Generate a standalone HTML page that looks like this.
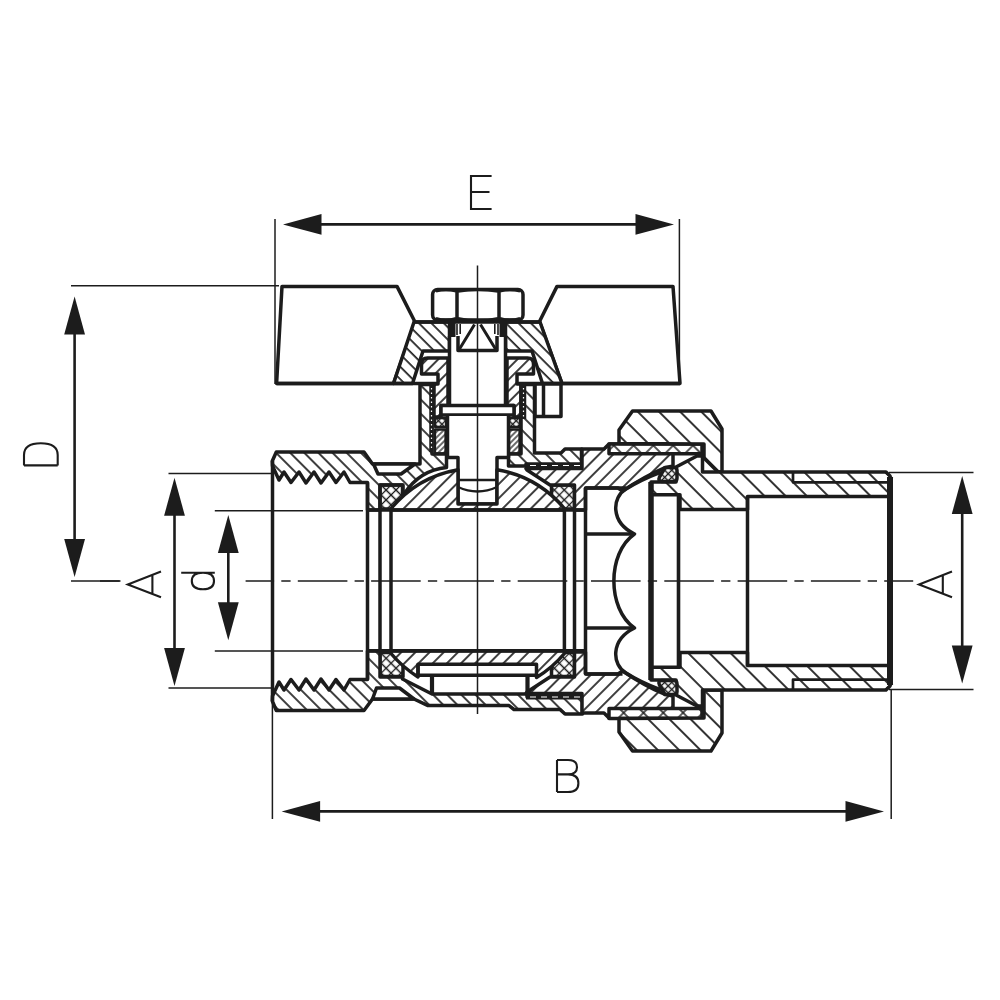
<!DOCTYPE html>
<html><head><meta charset="utf-8"><title>Ball valve drawing</title>
<style>
html,body{margin:0;padding:0;background:#fff;}
body{width:1000px;height:1000px;overflow:hidden;font-family:"Liberation Sans",sans-serif;}
svg{display:block}
.k{stroke:#1c1c1c;stroke-width:3.5;stroke-linejoin:round;stroke-linecap:butt}
.m{stroke:#1c1c1c;stroke-width:2.3;stroke-linejoin:round}
.t{stroke:#1c1c1c;stroke-width:1.6}
.x{stroke:#1c1c1c;stroke-width:1.5}
.d{stroke:#1c1c1c;stroke-width:2.6}
.l{stroke:#1c1c1c;stroke-width:2.1;stroke-linejoin:miter;stroke-linecap:butt}
</style></head><body>
<svg width="1000" height="1000" viewBox="0 0 1000 1000">
<rect width="1000" height="1000" fill="#fff"/>

<defs>
<pattern id="hb10" width="10" height="10" patternUnits="userSpaceOnUse" patternTransform="rotate(-45)"><line x1="5" y1="-1" x2="5" y2="11" stroke="#1c1c1c" stroke-width="1.7"/></pattern>
<pattern id="hb9" width="8.8" height="10" patternUnits="userSpaceOnUse" patternTransform="translate(3 0) rotate(-45)"><line x1="4" y1="-1" x2="4" y2="11" stroke="#1c1c1c" stroke-width="1.7"/></pattern>
<pattern id="hb15" width="15" height="10" patternUnits="userSpaceOnUse" patternTransform="translate(4 0) rotate(-45)"><line x1="7" y1="-1" x2="7" y2="11" stroke="#1c1c1c" stroke-width="1.8"/></pattern>
<pattern id="hf10" width="10" height="10" patternUnits="userSpaceOnUse" patternTransform="rotate(45)"><line x1="5" y1="-1" x2="5" y2="11" stroke="#1c1c1c" stroke-width="1.7"/></pattern>
<pattern id="hf8" width="8" height="10" patternUnits="userSpaceOnUse" patternTransform="rotate(45)"><line x1="4" y1="-1" x2="4" y2="11" stroke="#1c1c1c" stroke-width="1.7"/></pattern>
<pattern id="hf4" width="4" height="10" patternUnits="userSpaceOnUse" patternTransform="rotate(45)"><line x1="2" y1="-1" x2="2" y2="11" stroke="#1c1c1c" stroke-width="1.3"/></pattern>
<pattern id="hx" width="7" height="7" patternUnits="userSpaceOnUse" patternTransform="rotate(45)"><path d="M3.5,-1V8M-1,3.5H8" stroke="#1c1c1c" stroke-width="1.3" fill="none"/></pattern>
<pattern id="hx4" width="5" height="5" patternUnits="userSpaceOnUse" patternTransform="rotate(45)"><path d="M2.5,-1V6M-1,2.5H6" stroke="#1c1c1c" stroke-width="1.3" fill="none"/></pattern>
<pattern id="hxb" width="14" height="14" patternUnits="userSpaceOnUse" patternTransform="rotate(45)"><path d="M7,-1V15M-1,7H15" stroke="#1c1c1c" stroke-width="1.4" fill="none"/></pattern>
</defs>
<path class="x" d="M275,219V384" fill="none" />
<path class="x" d="M679.4,219V384" fill="none" />
<path class="x" d="M272.4,700V819" fill="none" />
<path class="x" d="M891.2,689V819" fill="none" />
<path class="x" d="M71,285.8H279" fill="none" />
<path class="x" d="M71,581H120.5" fill="none" />
<path class="x" d="M168.5,473.6H272" fill="none" />
<path class="x" d="M168.5,688H272" fill="none" />
<path class="x" d="M214.8,510.8H363" fill="none" />
<path class="x" d="M214.8,650.9H363" fill="none" />
<path class="x" d="M889,472.4H973.5" fill="none" />
<path class="x" d="M889,689.4H973.5" fill="none" />
<path class="x" d="M100,581H119.6" fill="none" />
<path d="M313,224.4H644" class="d" fill="none"/>
<path d="M283,224.4L321.5,214.0V234.8Z" fill="#1c1c1c"/>
<path d="M674,224.4L635.5,214.0V234.8Z" fill="#1c1c1c"/>
<path d="M311.6,811.4H854" class="d" fill="none"/>
<path d="M281.6,811.4L320.1,801.0V821.8Z" fill="#1c1c1c"/>
<path d="M884,811.4L845.5,801.0V821.8Z" fill="#1c1c1c"/>
<path d="M74.6,326.4V547" class="d" fill="none"/>
<path d="M74.6,296.4L64.19999999999999,334.4H85.0Z" fill="#1c1c1c"/>
<path d="M74.6,577L64.19999999999999,539H85.0Z" fill="#1c1c1c"/>
<path d="M174.5,507.8V655.9" class="d" fill="none"/>
<path d="M174.5,477.8L164.1,515.8H184.9Z" fill="#1c1c1c"/>
<path d="M174.5,685.9L164.1,647.9H184.9Z" fill="#1c1c1c"/>
<path d="M228.3,545V610.2" class="d" fill="none"/>
<path d="M228.3,515L217.9,553H238.70000000000002Z" fill="#1c1c1c"/>
<path d="M228.3,640.2L217.9,602.2H238.70000000000002Z" fill="#1c1c1c"/>
<path d="M962.2,506V653.6" class="d" fill="none"/>
<path d="M962.2,476L951.8000000000001,514H972.6Z" fill="#1c1c1c"/>
<path d="M962.2,683.6L951.8000000000001,645.6H972.6Z" fill="#1c1c1c"/>
<path class="l" d="M491.6,176H471V209H491.6M471,192H489.5" fill="none" />
<path class="l" d="M557,760V792M557,760H568Q577,760 577,767.2Q577,774.4 568,774.4H557M568,774.4Q578.4,774.4 578.4,783.2Q578.4,792 568,792H557" fill="none" />
<path class="l" d="M24,465.4H57.7M24,465.4V455Q24,443.3 40.8,443.3Q57.7,443.3 57.7,455V465.4" fill="none" />
<path class="l" d="M161,571.5L127.8,584.4L161,597.3M152.4,575V593.8" fill="none" />
<path class="l" d="M952,571.5L919,584.4L952,597.3M942.8,575V593.8" fill="none" />
<path class="l" d="M181.2,572.8H214.8M203,572.8Q191.8,572.8 191.8,581Q191.8,589.3 203,589.3Q214,589.3 214,581Q214,572.8 203,572.8" fill="none" />
<path class="k" d="M282,286.4H397L415,322L393.5,383.5H276.6Z" fill="#fff" />
<path class="k" d="M557,286.4H673L680,383.5H562L539.5,321.5Z" fill="#fff" />
<path d="M414,322H449.5V351H423L412.5,383.5H393.5Z" fill="#fff" stroke="none"/>
<path class="k" d="M414,322H449.5V351H423L412.5,383.5H393.5Z" fill="url(#hb9)" />
<path d="M505.5,322H540L562,383.5H542.5L532,351H505.5Z" fill="#fff" stroke="none"/>
<path class="k" d="M505.5,322H540L562,383.5H542.5L532,351H505.5Z" fill="url(#hb9)" />
<path class="k" d="M276.6,383.5H440" fill="none" />
<path class="k" d="M515,383.5H680" fill="none" />
<path class="k" d="M535,384H561V416.5H535Z" fill="#fff" />
<path class="k" d="M543.5,384V416" fill="none" />
<rect x="432.6" y="289.5" width="90.4" height="30.5" rx="5" class="k" fill="#fff"/>
<path class="k" d="M457,290V320M499,290V320" fill="none" />
<path class="m" d="M436,318Q446,321.5 456,318M458,318Q478,322.5 498,318M500,318Q510,321.5 520,318" fill="none" />
<path class="m" d="M436,291.5Q446,288.5 456,291.5M458,291.5Q478,288 498,291.5M500,291.5Q510,288.5 520,291.5" fill="none" />
<path class="k" d="M414,322H541" fill="none" />
<rect x="448" y="322" width="7.5" height="15" fill="#1c1c1c"/>
<rect x="499.5" y="322" width="7.5" height="15" fill="#1c1c1c"/>
<rect x="449.5" y="337" width="56" height="69" fill="#fff"/>
<path class="k" d="M449.5,336V406M505.5,336V406" fill="none" />
<path class="k" d="M458,336V350.6H497V336" fill="none" />
<path class="t" d="M457,324V335M460.2,324V334M494.8,324V334M498,324V335" fill="none" />
<path class="m" d="M459.5,349L474.5,324.5M495.5,349L480.5,324.5" fill="none" style="stroke-width:3"/>
<path d="M427.5,358H448V405.5H441V417H434V384H438V374H421.5V364Q421.5,358 427.5,358Z" fill="#fff" stroke="none"/>
<path class="k" d="M427.5,358H448V405.5H441V417H434V384H438V374H421.5V364Q421.5,358 427.5,358Z" fill="url(#hf8)" />
<path d="M527.5,358H507V405.5H514V417H521V384H517V374H533.5V364Q533.5,358 527.5,358Z" fill="#fff" stroke="none"/>
<path class="k" d="M527.5,358H507V405.5H514V417H521V384H517V374H533.5V364Q533.5,358 527.5,358Z" fill="url(#hf8)" />
<path d="M272.3,461L276.3,452H364L372.5,464H420V384.5H432V454H446.5V467.5Q420,470 404,494L402.5,493V485H380V510H367.5V482.5H350L344,472L336,482.5L329,472L321,483L314,472L306,483L299,472L291,482.5L284,472L279,480L272.5,466Z" fill="#fff" stroke="none"/>
<path class="k" d="M272.3,461L276.3,452H364L372.5,464H420V384.5H432V454H446.5V467.5Q420,470 404,494L402.5,493V485H380V510H367.5V482.5H350L344,472L336,482.5L329,472L321,483L314,472L306,483L299,472L291,482.5L284,472L279,480L272.5,466Z" fill="url(#hb10)" />
<path class="k" d="M373.5,464H415L401,474H378Z" fill="#fff" />
<path d="M521,384.5H534.5V453H561L565,449H581.5V464H526V466H508.5V454H521Z" fill="#fff" stroke="none"/>
<path class="k" d="M521,384.5H534.5V453H561L565,449H581.5V464H526V466H508.5V454H521Z" fill="url(#hb10)" />
<path class="k" d="M431.5,386V452" fill="none" style="stroke-width:4.5"/>
<path class="k" d="M523.5,386V419" fill="none" style="stroke-width:5.5"/>
<path class="m" d="M521,419V454" fill="none" />
<path d="M431.5,388V450M523.5,388V417" stroke="#fff" stroke-width="1.2" stroke-dasharray="1.5 3" fill="none"/>
<rect x="435" y="418" width="11" height="9" fill="url(#hx4)" class="m"/>
<rect x="435" y="429.5" width="10.5" height="24" fill="url(#hf4)" class="m"/>
<rect x="509" y="418" width="11" height="9" fill="url(#hx4)" class="m"/>
<rect x="509" y="429.5" width="10.5" height="24" fill="url(#hf4)" class="m"/>
<path class="k" d="M441,405.5H514V415H441Z" fill="#fff" />
<rect x="447.5" y="416" width="61" height="41" fill="#fff"/>
<path class="k" d="M447.5,415V457.5H458V504H497V457.5H508.5V415" fill="none" />
<path class="m" d="M458,480H497" fill="none" />
<path class="m" d="M458,487Q477.5,496 497,487" fill="none" />
<rect x="380" y="485" width="23" height="24" fill="url(#hx)" class="k"/>
<rect x="551.5" y="485" width="23" height="24" fill="url(#hx)" class="k"/>
<rect x="380" y="652.5" width="23" height="24" fill="url(#hx)" class="k"/>
<rect x="551.5" y="652.5" width="23" height="24" fill="url(#hx)" class="k"/>
<path d="M391,510V508.5A113,113 0 0 1 458,469.7V504H497V469.7A113,113 0 0 1 564.4,508.5V510Z" fill="#fff" stroke="none"/>
<path class="k" d="M391,510V508.5A113,113 0 0 1 458,469.7V504H497V469.7A113,113 0 0 1 564.4,508.5V510Z" fill="url(#hf10)" />
<path d="M391,651V653.5A113,113 0 0 0 418,676.9V664.3H536.5V677.5A113,113 0 0 0 564.4,653.5V651Z" fill="#fff" stroke="none"/>
<path class="k" d="M391,651V653.5A113,113 0 0 0 418,676.9V664.3H536.5V677.5A113,113 0 0 0 564.4,653.5V651Z" fill="url(#hf10)" />
<path class="k" d="M418,664.3V675.3H536.5" fill="none" />
<path class="k" d="M432,675.3V694M527.5,675.3V694" fill="none" style="stroke-width:4.2"/>
<path d="M272.3,701L276.3,710.5H364L372.5,699H414L428,705.6H509L514,709.5H560L565,714H582.5V697H527V694H432L402.5,679V677H380V651H367.5V679.5H350L344,690L336,679.5L329,690L321,679L314,690L306,679L299,690L291,679.5L284,690L279,682L272.5,696Z" fill="#fff" stroke="none"/>
<path class="k" d="M272.3,701L276.3,710.5H364L372.5,699H414L428,705.6H509L514,709.5H560L565,714H582.5V697H527V694H432L402.5,679V677H380V651H367.5V679.5H350L344,690L336,679.5L329,690L321,679L314,690L306,679L299,690L291,679.5L284,690L279,682L272.5,696Z" fill="url(#hb10)" />
<path class="k" d="M376.5,688H399.5L414,699H372.5Z" fill="#fff" />
<path class="k" d="M526,697H582" fill="none" style="stroke-width:5"/>
<path class="k" d="M526,465.5H582" fill="none" style="stroke-width:5"/>
<path d="M530,697H580M530,465.5H580" stroke="#fff" stroke-width="1.2" stroke-dasharray="6 5" fill="none"/>
<path d="M526,468.5H582V449H604L609,444H673V466L664,468Q645,476 622.5,491L618,488H585.5V510H574.5V485H550L527,470Z" fill="#fff" stroke="none"/>
<path class="k" d="M526,468.5H582V449H604L609,444H673V466L664,468Q645,476 622.5,491L618,488H585.5V510H574.5V485H550L527,470Z" fill="url(#hf10)" />
<path d="M526,693.5H582V713H604L609,718H673V696L664,694Q645,686 622.5,671L618,674H585.5V652H574.5V677H550L527,692Z" fill="#fff" stroke="none"/>
<path class="k" d="M526,693.5H582V713H604L609,718H673V696L664,694Q645,686 622.5,671L618,674H585.5V652H574.5V677H550L527,692Z" fill="url(#hf10)" />
<rect x="609" y="444" width="93" height="9.8" fill="#fff"/>
<rect x="609" y="444" width="93" height="9.8" fill="url(#hxb)" class="k"/>
<rect x="609" y="708.6" width="93" height="9.8" fill="#fff"/>
<rect x="609" y="708.6" width="93" height="9.8" fill="url(#hxb)" class="k"/>
<path class="k" d="M367.5,482.5V679.5" fill="none" />
<path class="k" d="M380,510V651M391,510V651" fill="none" />
<path class="k" d="M564.4,510V651M574.5,510V651" fill="none" />
<path class="k" d="M585.5,488V674" fill="none" />
<path class="k" d="M367.5,510H585.5M367.5,650.8H585.5" fill="none" />
<path class="k" d="M585.5,488H626M586,534H634M586,628H634M585.5,674H622.5" fill="none" />
<path class="k" d="M661,472Q640,480 626,489C612,497 610,522 634.5,534C607,553 607,609 634.5,628C610,640 612,665 626,673Q640,682 661,690" fill="none" />
<path d="M619,443.5V430L632.5,411H711L722,429V472H718L704,458V444Z" fill="#fff" stroke="none"/>
<path class="k" d="M619,443.5V430L632.5,411H711L722,429V472H718L704,458V444Z" fill="url(#hb15)" />
<path d="M619,718.5V732L632.5,751H711L722,733V690H704V718Z" fill="#fff" stroke="none"/>
<path class="k" d="M619,718.5V732L632.5,751H711L722,733V690H704V718Z" fill="url(#hb15)" />
<path d="M651,494.7V482H676V467L697,456H702.5V472H886L890,476V496.5H747.5V509.5H680V494.7Z" fill="#fff" stroke="none"/>
<path class="k" d="M651,494.7V482H676V467L697,456H702.5V472H886L890,476V496.5H747.5V509.5H680V494.7Z" fill="url(#hb15)" />
<path d="M651,667.3V680H676V695L697,706H702.5V690H886L890,686V665.5H747.5V652.5H680V667.3Z" fill="#fff" stroke="none"/>
<path class="k" d="M651,667.3V680H676V695L697,706H702.5V690H886L890,686V665.5H747.5V652.5H680V667.3Z" fill="url(#hb15)" />
<path d="M665,467.5H674Q677,467.5 677,470.5V478Q677,481.5 674,481.5H662Q657.5,481.5 659.5,477Z" fill="#fff" stroke="none"/>
<path class="k" d="M665,467.5H674Q677,467.5 677,470.5V478Q677,481.5 674,481.5H662Q657.5,481.5 659.5,477Z" fill="url(#hx4)" />
<path d="M665,694.5H674Q677,694.5 677,691.5V684Q677,680.5 674,680.5H662Q657.5,680.5 659.5,685Z" fill="#fff" stroke="none"/>
<path class="k" d="M665,694.5H674Q677,694.5 677,691.5V684Q677,680.5 674,680.5H662Q657.5,680.5 659.5,685Z" fill="url(#hx4)" />
<path class="k" d="M651,482V680" fill="none" style="stroke-width:5.5"/>
<path class="k" d="M678.5,494.7V667.3" fill="none" style="stroke-width:3.6"/>
<path class="k" d="M890,477V685" fill="none" style="stroke-width:6"/>
<path class="m" d="M885,472L892.5,478.5M885,690L892.5,683.5" fill="none" />
<path class="m" d="M793,472V482.3H888M793,690V679.7H888" fill="none" style="stroke-width:2.7"/>
<path class="k" d="M747.5,496V666" fill="none" />
<path class="x" d="M477.5,265.6V714" fill="none" />
<path d="M245.6,581H913.2" class="x" fill="none" stroke-dasharray="28.5 7.2 9.3 7.2 49.6 7.2 9.3 7.2 49.6 7.2 9.3 7.2 49.6 7.2 9.3 7.2 49.6 7.2 9.3 7.2 49.6 7.2 9.3 7.2 49.6 7.2 9.3 7.2 49.6 7.2 9.3 7.2 49.6 7.2 9.3 7.2 49.6 7.2 9.3 7.2 49.6 7.2 9.3 7.2" />
<path class="k" d="M272.5,461V701" fill="none" />
</svg>
</body></html>
